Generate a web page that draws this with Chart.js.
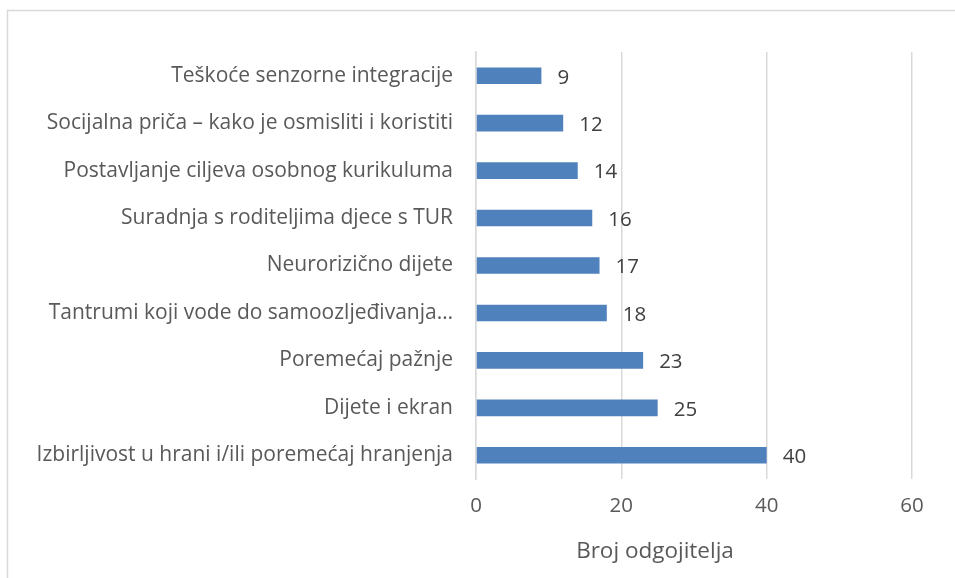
<!DOCTYPE html>
<html>
<head>
<meta charset="utf-8">
<script src="https://cdn.jsdelivr.net/npm/chart.js@4"></script>
<style>
  html, body { margin: 0; padding: 0; background: #fff; }
  #wrap { width: 955px; height: 578px; }
</style>
</head>
<body>
<div id="wrap"><canvas id="topicsChart" width="955" height="578"></canvas></div>
<script>
// ========== Data ==========
const topics = [
  'Teškoće senzorne integracije',
  'Socijalna priča – kako je osmisliti i koristiti',
  'Postavljanje ciljeva osobnog kurikuluma',
  'Suradnja s roditeljima djece s TUR',
  'Neurorizično dijete',
  'Tantrumi koji vode do samoozljeđivanja…',
  'Poremećaj pažnje',
  'Dijete i ekran',
  'Izbirljivost u hrani i/ili poremećaj hranjenja'
];
const teacherCounts = [9, 12, 14, 16, 17, 18, 23, 25, 40];
const xTicks = [0, 20, 40, 60];
const xTitle = 'Broj odgojitelja';

const FONT = '"Open Sans", sans-serif';
const TEXT = '#595959';

// ========== Plugins ==========
// thin frame around the chart
const framePlugin = {
  id: 'frame',
  beforeDraw(chart) {
    const ctx = chart.ctx;
    ctx.save();
    ctx.fillStyle = '#fff';
    ctx.fillRect(0, 0, chart.width, chart.height);
    ctx.strokeStyle = '#d9d9d9';
    ctx.lineWidth = 1.5;
    ctx.strokeRect(7.5, 10.5, 1000, 700);
    ctx.restore();
  }
};

// value labels next to each bar + axis title
const labelsPlugin = {
  id: 'valueLabels',
  afterDatasetsDraw(chart) {
    const ctx = chart.ctx;
    const meta = chart.getDatasetMeta(0);
    ctx.save();
    ctx.font = '20.5px ' + FONT;
    ctx.fillStyle = '#404040';
    ctx.textAlign = 'left';
    ctx.textBaseline = 'middle';
    meta.data.forEach((bar, i) => {
      ctx.fillText(String(teacherCounts[i]), bar.x + 16, bar.y + 2);
    });
    // axis title, sits a bit left of the plot centre
    ctx.fillStyle = TEXT;
    ctx.textAlign = 'center';
    ctx.font = '22.5px ' + FONT;
    ctx.fillText(xTitle, chart.chartArea.left + 179, 552);
    ctx.restore();
  }
};

// ========== Chart ==========
const ctx = document.getElementById('topicsChart').getContext('2d');
new Chart(ctx, {
  type: 'bar',
  data: {
    labels: topics,
    datasets: [{
      data: teacherCounts,
      backgroundColor: '#4f81bd',
      borderWidth: 0,
      barPercentage: 0.35,
      categoryPercentage: 1
    }]
  },
  options: {
    indexAxis: 'y',
    responsive: false,
    animation: false,
    layout: { padding: { top: 52, right: 43, left: 0, bottom: 0 } },
    plugins: {
      legend: { display: false },
      tooltip: { enabled: false }
    },
    scales: {
      x: {
        min: 0,
        max: 60,
        afterBuildTicks(scale) {
          scale.ticks = xTicks.map(v => ({ value: v }));
        },
        afterFit(scale) { scale.height = 99; },
        grid: { color: '#d9d9d9', lineWidth: 1.5, drawTicks: false },
        border: { display: false },
        ticks: {
          color: TEXT,
          padding: 15,
          font: { family: FONT, size: 20.5 }
        }
      },
      y: {
        afterFit(scale) { scale.width = 476; },
        grid: { display: false, drawTicks: false },
        border: { display: true, color: '#d9d9d9', width: 1.5 },
        ticks: {
          color: TEXT,
          padding: 23,
          autoSkip: false,
          font: { family: FONT, size: 21 }
        }
      }
    }
  },
  plugins: [framePlugin, labelsPlugin]
});
</script>
</body>
</html>
